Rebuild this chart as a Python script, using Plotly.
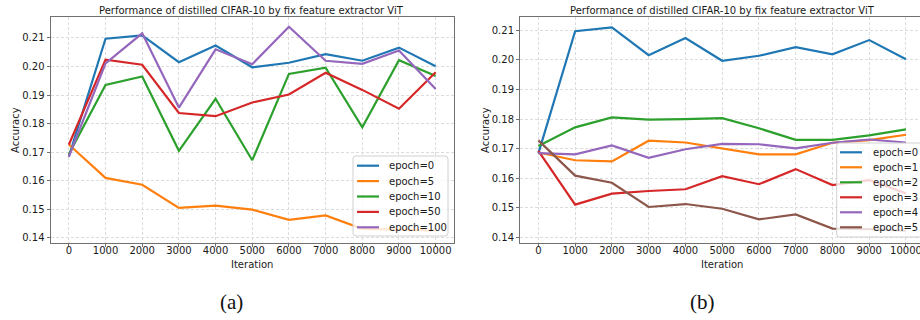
import plotly.graph_objects as go

W, H = 920, 320

iterations = [0, 1000, 2000, 3000, 4000, 5000, 6000, 7000, 8000, 9000, 10000]
x_tick_labels = [str(v) for v in iterations]
y_ticks = [0.14, 0.15, 0.16, 0.17, 0.18, 0.19, 0.20, 0.21]

# Panel (a)
a_names = ["epoch=0", "epoch=5", "epoch=10", "epoch=50", "epoch=100"]
a_epoch0 = [0.1685, 0.2097, 0.2109, 0.2015, 0.2073, 0.1997, 0.2013, 0.2043, 0.2020, 0.2066, 0.2001]
a_epoch5 = [0.1727, 0.1610, 0.1586, 0.1505, 0.1513, 0.1499, 0.1463, 0.1479, 0.1432, 0.1430, 0.1426]
a_epoch10 = [0.1693, 0.1935, 0.1965, 0.1705, 0.1887, 0.1672, 0.1974, 0.1996, 0.1787, 0.2022, 0.1967]
a_epoch50 = [0.1726, 0.2024, 0.2006, 0.1837, 0.1826, 0.1874, 0.1902, 0.1978, 0.1918, 0.1852, 0.1980]
a_epoch100 = [0.1684, 0.2011, 0.2116, 0.1856, 0.2060, 0.2008, 0.2139, 0.2020, 0.2009, 0.2056, 0.1921]

# Panel (b)
b_names = ["epoch=0", "epoch=1", "epoch=2", "epoch=3", "epoch=4", "epoch=5"]
b_epoch0 = [0.1684, 0.2097, 0.2110, 0.2016, 0.2074, 0.1997, 0.2014, 0.2043, 0.2019, 0.2067, 0.2002]
b_epoch1 = [0.1687, 0.1661, 0.1657, 0.1727, 0.1721, 0.1700, 0.1681, 0.1681, 0.1720, 0.1729, 0.1747]
b_epoch2 = [0.1709, 0.1772, 0.1806, 0.1798, 0.1800, 0.1803, 0.1769, 0.1730, 0.1730, 0.1745, 0.1765]
b_epoch3 = [0.1693, 0.1511, 0.1548, 0.1557, 0.1563, 0.1607, 0.1580, 0.1631, 0.1577, 0.1594, 0.1549]
b_epoch4 = [0.1685, 0.1681, 0.1711, 0.1669, 0.1698, 0.1716, 0.1715, 0.1701, 0.1720, 0.1731, 0.1721]
b_epoch5 = [0.1728, 0.1609, 0.1585, 0.1503, 0.1513, 0.1497, 0.1461, 0.1478, 0.1430, 0.1428, 0.1423]

title_text = "Performance of distilled CIFAR-10 by fix feature extractor ViT"
colors = ["#1f77b4", "#ff7f0e", "#2ca02c", "#d62728", "#9467bd", "#8c564b"]
FONT = "DejaVu Sans"
TEXT_COLOR = "#1a1a1a"

def px(x):
    return x / W

def py(y):
    return 1 - y / H

fig = go.Figure()

a_series = [a_epoch0, a_epoch5, a_epoch10, a_epoch50, a_epoch100]
for i, (name, ys) in enumerate(zip(a_names, a_series)):
    fig.add_trace(go.Scatter(x=iterations, y=ys, mode="lines", name=name,
                             line=dict(color=colors[i], width=2.2),
                             xaxis="x", yaxis="y", showlegend=False))

b_series = [b_epoch0, b_epoch1, b_epoch2, b_epoch3, b_epoch4, b_epoch5]
for i, (name, ys) in enumerate(zip(b_names, b_series)):
    fig.add_trace(go.Scatter(x=iterations, y=ys, mode="lines", name=name,
                             line=dict(color=colors[i], width=2.2),
                             xaxis="x2", yaxis="y2", showlegend=False))

ydom = [py(242.5), py(17.3)]
axis_common = dict(
    showline=True, linecolor="#707070", linewidth=1, mirror=True,
    ticks="outside", ticklen=3, tickcolor="#707070", tickwidth=1,
    showgrid=True, gridcolor="#dcdcdc", griddash="3px,2px", gridwidth=1,
    zeroline=False, tickfont=dict(family=FONT, size=10, color=TEXT_COLOR),
    ticklabeloverflow="allow",
)

fig.update_layout(
    width=W, height=H,
    margin=dict(l=0, r=0, t=0, b=0, autoexpand=False),
    paper_bgcolor="white", plot_bgcolor="white",
    showlegend=False,
    xaxis=dict(domain=[px(50.5), px(454)], range=[-500, 10500], anchor="y",
               tickvals=iterations, ticktext=x_tick_labels,
               ticklabelstandoff=-5, **axis_common),
    yaxis=dict(domain=ydom, range=[0.1384, 0.2172], anchor="x",
               tickvals=y_ticks, tickformat=".2f", **axis_common),
    xaxis2=dict(domain=[px(520), 1.0], range=[-500, 10381], anchor="y2",
                tickvals=iterations, ticktext=x_tick_labels,
                ticklabelstandoff=-5, **axis_common),
    yaxis2=dict(domain=ydom, range=[0.1383, 0.2144], anchor="x2",
                tickvals=y_ticks, tickformat=".2f", **axis_common),
)

ann_font = dict(family=FONT, size=10, color=TEXT_COLOR)
annotations = [
    dict(text=title_text, x=px(252), y=py(10.5), font=ann_font,
         xanchor="center", yanchor="middle"),
    dict(text=title_text, x=px(722), y=py(10.5), font=ann_font,
         xanchor="center", yanchor="middle"),
    dict(text="Iteration", x=px(252), y=py(264), font=ann_font,
         xanchor="center", yanchor="middle"),
    dict(text="Iteration", x=px(722), y=py(264), font=ann_font,
         xanchor="center", yanchor="middle"),
    dict(text="Accuracy", x=px(15), y=py(130), font=ann_font,
         textangle=-90, xanchor="center", yanchor="middle"),
    dict(text="Accuracy", x=px(485), y=py(130), font=ann_font,
         textangle=-90, xanchor="center", yanchor="middle"),
    dict(text="(a)", x=px(231), y=py(302), font=dict(family="Liberation Serif", size=21, color="#111"),
         xanchor="center", yanchor="middle"),
    dict(text="(b)", x=px(702), y=py(302), font=dict(family="Liberation Serif", size=21, color="#111"),
         xanchor="center", yanchor="middle"),
]

shapes = []

def rounded_rect(x0, y0, x1, y1, r):
    # pixel coords (top-left origin) -> paper path
    pts = (f"M {px(x0 + r)},{py(y0)} L {px(x1 - r)},{py(y0)} "
           f"Q {px(x1)},{py(y0)} {px(x1)},{py(y0 + r)} L {px(x1)},{py(y1 - r)} "
           f"Q {px(x1)},{py(y1)} {px(x1 - r)},{py(y1)} L {px(x0 + r)},{py(y1)} "
           f"Q {px(x0)},{py(y1)} {px(x0)},{py(y1 - r)} L {px(x0)},{py(y0 + r)} "
           f"Q {px(x0)},{py(y0)} {px(x0 + r)},{py(y0)} Z")
    return pts

def add_legend(names, box, first_row, row_step, line_x0, line_x1, text_x):
    x0, y0, x1, y1 = box
    shapes.append(dict(type="path", path=rounded_rect(x0, y0, x1, y1, 3),
                       xref="paper", yref="paper", layer="above",
                       fillcolor="rgba(255,255,255,0.8)",
                       line=dict(color="#d0d0d0", width=1)))
    for i, name in enumerate(names):
        yc = first_row + i * row_step
        shapes.append(dict(type="line", xref="paper", yref="paper", layer="above",
                           x0=px(line_x0), x1=px(line_x1), y0=py(yc), y1=py(yc),
                           line=dict(color=colors[i], width=2.2)))
        annotations.append(dict(text=name, x=px(text_x), y=py(yc), font=ann_font,
                                xanchor="left", yanchor="middle"))

add_legend(a_names, (353, 156, 448, 236), 165.7, 15.4, 357, 379, 386.5)
add_legend(b_names, (836.7, 143, 935, 237), 152.3, 15.0, 840, 862, 870.5)

for a in annotations:
    a["xref"] = "paper"
    a["yref"] = "paper"
    a["showarrow"] = False
fig.update_layout(annotations=annotations, shapes=shapes)

fig.write_html("out.html")
